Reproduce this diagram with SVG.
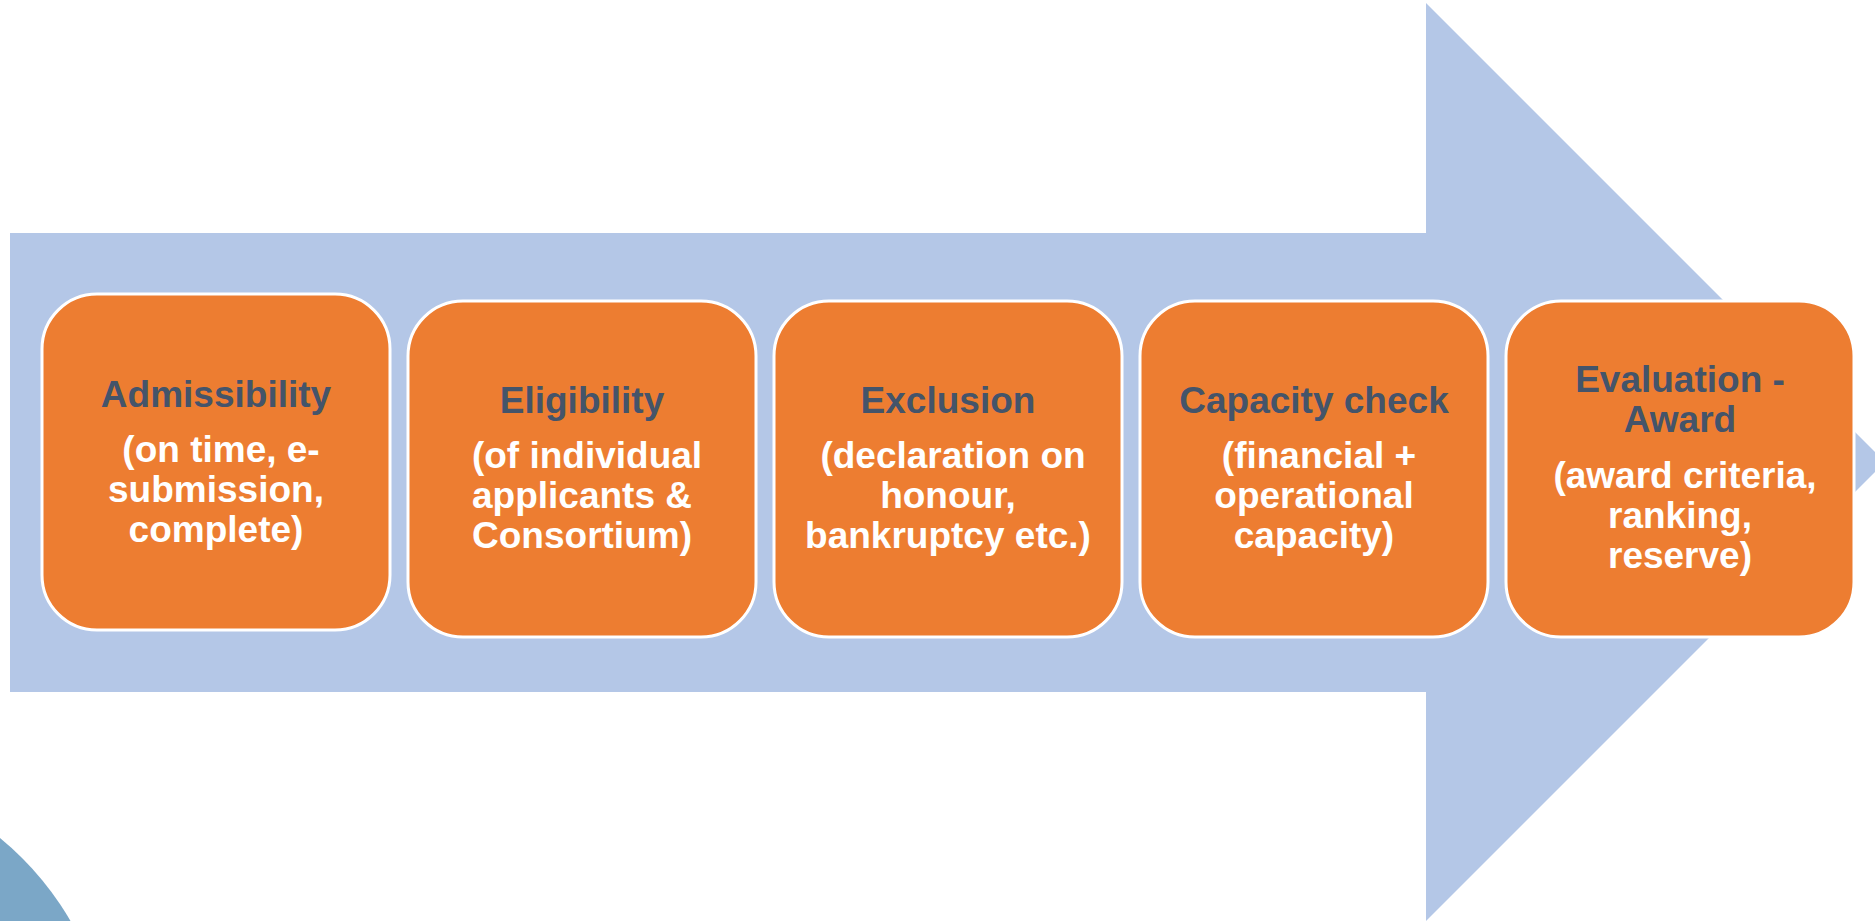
<svg xmlns="http://www.w3.org/2000/svg" width="1875" height="921" viewBox="0 0 1875 921">
<style>
.box{fill:#ED7D31;stroke:#FFFFFF;stroke-width:3}
.t{font-family:"Liberation Sans",Arial,sans-serif;font-weight:bold;font-size:37px;text-anchor:middle}
.h{fill:#44546A}
.s{fill:#FFFFFF}
</style>
<rect x="0" y="0" width="1875" height="921" fill="#FFFFFF"/>
<circle cx="-191" cy="1072" r="302" fill="#7BA7C7"/>
<g id="connectors">
<polygon id="arrow" points="10,233 1426,233 1426,3 1885,462 1426,921 1426,692 10,692" fill="#B4C7E7"/>
</g>
<g id="n1">
<rect class="box" x="42" y="294" width="348" height="336" rx="55"/>
<text class="t h" x="216" y="407">Admissibility</text>
<text class="t s" x="221" y="462">(on time, e-</text>
<text class="t s" x="216" y="502">submission,</text>
<text class="t s" x="216" y="542">complete)</text>
</g>
<g id="n2">
<rect class="box" x="408" y="301" width="348" height="336" rx="55"/>
<text class="t h" x="582" y="413">Eligibility</text>
<text class="t s" x="587" y="468">(of individual</text>
<text class="t s" x="582" y="508">applicants &amp;</text>
<text class="t s" x="582" y="548">Consortium)</text>
</g>
<g id="n3">
<rect class="box" x="774" y="301" width="348" height="336" rx="55"/>
<text class="t h" x="948" y="413">Exclusion</text>
<text class="t s" x="953" y="468">(declaration on</text>
<text class="t s" x="948" y="508">honour,</text>
<text class="t s" x="948" y="548">bankruptcy etc.)</text>
</g>
<g id="n4">
<rect class="box" x="1140" y="301" width="348" height="336" rx="55"/>
<text class="t h" x="1314" y="413">Capacity check</text>
<text class="t s" x="1319" y="468">(financial +</text>
<text class="t s" x="1314" y="508">operational</text>
<text class="t s" x="1314" y="548">capacity)</text>
</g>
<g id="n5">
<rect class="box" x="1506" y="301" width="348" height="336" rx="55"/>
<text class="t h" x="1680" y="392">Evaluation -</text>
<text class="t h" x="1680" y="432">Award</text>
<text class="t s" x="1685" y="488">(award criteria,</text>
<text class="t s" x="1680" y="528">ranking,</text>
<text class="t s" x="1680" y="568">reserve)</text>
</g>
</svg>
